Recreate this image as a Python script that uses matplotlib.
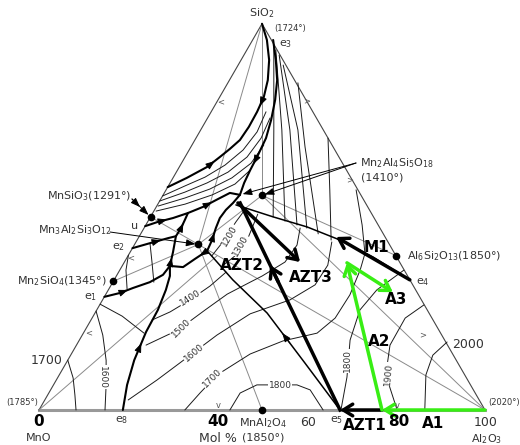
import numpy as np
import matplotlib
matplotlib.use('Agg')
import matplotlib.pyplot as plt

# ternary MnO - Al2O3 - SiO2, every curve given as (mol% Al2O3, mol% SiO2)
H = np.sqrt(3) / 2

# compounds (dots)
cmp_al = [0, 14.29, 0, 22.22, 60, 50]
cmp_si = [50, 42.86, 33.33, 55.56, 40, 0]

# gray tie lines: pairs of compositions
ties = [((0, 100), (22.22, 55.56)), ((0, 100), (14.29, 42.86)),
        ((0, 33.33), (14.29, 42.86)), ((0, 50), (14.29, 42.86)),
        ((14.29, 42.86), (50, 0)), ((14.29, 42.86), (100, 0)),
        ((22.22, 55.56), (100, 0)), ((22.22, 55.56), (60, 40)),
        ((14.29, 42.86), (22.22, 55.56)), ((0, 0), (20, 40))]

# bold boundary curves
b1 = ([0, 3.2, 6.3, 8.6, 9.9, 10.3, 10.4, 10.1, 9.0, 7.8, 6.2, 3.1, 0],
      [100, 95.8, 90.6, 85.4, 81.0, 77.2, 73.3, 69.9, 67.6, 65.5, 62.9, 60.1, 57.7])
b2 = ([4.6, 7.8, 10.7, 12.8, 14.5, 15.7, 16.1, 16.3, 16.6, 17.2],
      [95.8, 90.6, 85.4, 80.3, 75.1, 70.4, 66.0, 62.1, 58.8, 55.7])
b3 = ([0, 2.3, 5.2, 7.9, 10.5, 12.8, 14.7, 17.2],
      [47.6, 48.7, 49.7, 51.0, 52.6, 54.6, 56.2, 55.7])
b4 = ([0, 3.3, 6.7, 8.2, 8.3, 8.1, 7.9], [41.9, 43.2, 44.5, 45.0, 47.1, 49.2, 51.0])
b5 = ([0, 3.0, 5.3, 8.3, 10.3, 10.7], [29.3, 30.3, 31.6, 33.1, 35.0, 37.3])
b6 = ([18.8, 16.5, 14.9, 13.9, 13.7, 12.9, 12.0, 10.7],
      [0, 6.5, 12.9, 20.2, 25.9, 31.1, 34.7, 37.3])
b7 = ([17.1, 16.8, 16.1, 15.7, 16.0, 16.7, 17.2], [41.2, 44.0, 47.1, 49.7, 51.8, 53.6, 55.7])
b9 = ([10.7, 9.6, 8.2], [37.3, 40.9, 45.0])
b10 = ([17.1, 15.4, 13.8, 10.7], [41.2, 39.1, 37.0, 37.3])
# medium boundaries
b11 = ([17.1, 26.6, 38.6, 53.5, 67.5], [41.2, 33.7, 25.1, 12.2, 0])
b12 = ([17.6, 27.5, 36.4, 45.5, 55.1, 66.3], [53.1, 50.0, 47.4, 44.0, 39.6, 33.7])

# thin curves near the SiO2 corner
h1 = ([0, 3.7, 7.1, 10.0, 12.1, 12.9, 12.3], [55.4, 58.0, 60.3, 63.4, 67.3, 72.0, 77.2])
h2 = ([0, 4.5, 8.3, 11.6, 13.9, 14.6, 14.0], [54.1, 56.4, 58.8, 61.6, 65.5, 70.4, 75.6])
h3 = ([0.3, 5.3, 9.7, 13.2, 15.6, 16.1], [52.8, 54.9, 57.2, 60.1, 63.9, 68.6])
h4 = ([0.5, 6.1, 11.0, 14.7, 16.3], [51.5, 53.3, 55.7, 58.5, 62.1])
f2 = ([5.4, 16.4, 27.5], [94.5, 72.5, 50.0])
f3 = ([6.5, 18.2, 30.7], [93.2, 72.5, 48.9])
f4 = ([7.9, 20.0, 33.9], [91.9, 72.5, 47.9])
f5 = ([10.1, 21.8, 36.5], [89.3, 72.5, 47.1])
f6 = ([15.7, 25.6, 39.8], [84.7, 68.1, 45.6])
f7 = ([29.6, 36.7, 43.5], [70.4, 57.0, 44.0])
f8 = ([42.6, 48.5, 52.6], [57.0, 47.9, 40.9])

# isotherms
i1200 = ([18.8, 19.4, 19.8, 20.3], [39.9, 43.2, 48.7, 52.3])
i1300 = ([22.3, 24.0, 24.6, 23.7], [37.0, 39.9, 44.5, 50.7])
i1400 = ([13.7, 16.7, 19.6, 22.3, 24.1], [23.3, 25.4, 28.5, 32.1, 35.7])
i1500 = ([15.6, 20.8, 24.3, 27.2, 30.8, 32.7, 36.0, 36.5, 35.0],
         [16.8, 20.7, 25.9, 30.0, 33.1, 34.7, 38.3, 42.7, 47.1])
i1600 = ([18.7, 22.6, 25.5, 30.2, 34.9, 42.0, 45.7, 46.0, 43.9],
         [2.6, 7.8, 12.2, 19.4, 24.9, 28.5, 32.4, 37.5, 43.5])
i1700 = ([32.7, 33.9, 35.4, 40.1, 45.8, 52.4, 54.5, 54.8, 53.9, 52.8],
         [0, 4.4, 9.1, 14.5, 17.9, 19.9, 23.8, 29.8, 36.2, 40.6])
i1800 = ([42.8, 42.9, 45.6, 54.6, 58.2, 63.7], [0, 4.4, 6.5, 6.5, 5.2, 0])
k1800 = ([67.7, 64.8, 60.7, 59.0, 60.2, 63.7], [0, 8.5, 18.1, 25.9, 31.1, 36.2])
k1900 = ([80.3, 73.2, 70.3, 70.2, 72.7], [0, 9.1, 16.8, 23.8, 27.2])
k2000 = ([86.5, 82.2, 81.2, 82.7], [0, 9.1, 14.2, 17.6])
m1700 = ([0, 3.5, 6.1, 8.3], [12.9, 8.3, 3.9, 0])
m1600 = ([0, 4.6, 8.6, 11.8, 14.8], [25.6, 19.4, 12.9, 6.5, 0])
g1 = ([0, 6.5, 13.6], [27.4, 24.3, 19.9])
g2 = ([0, 1.4, 4.1], [40.1, 36.2, 31.3])
g3 = ([3.4, 6.3, 9.2], [43.0, 38.1, 33.1])

# composition paths (thick arrows)
azt1 = ([76.9, 67.5], [0, 0])
azt2 = ([67.5, 18.3], [0, 53.6])
azt3 = ([17.8, 39.4], [53.6, 38.3])
m1 = ([66.3, 44.2], [33.7, 44.8])
a1 = ([100, 76.9], [0, 0])
a2 = ([76.9, 50.0], [0, 38.1])
a3 = ([50.0, 64.1], [38.1, 30.5])


def tern(al, si):
    al = np.asarray(al, float)
    si = np.asarray(si, float)
    return al + si / 2, si * H


def px(x, y):
    # image pixel -> axes data, only used to place text
    return (x - 39) / 4.46, (410 - y) / 4.46


fig = plt.figure(figsize=(5.2, 4.45), dpi=100)
ax = fig.add_axes([0, 0, 1, 1])
ax.set_xlim(-39 / 4.46, 481 / 4.46)
ax.set_ylim(-35 / 4.46, 410 / 4.46)
ax.axis('off')


def line(c, **kw):
    x, y = tern(*c)
    ax.plot(x, y, solid_capstyle='round', **kw)


def head(c, i, rev=False, color='k'):
    x, y = tern(*c)
    p0 = np.array([x[i], y[i]])
    p1 = np.array([x[i + 1], y[i + 1]])
    if rev:
        p0, p1 = p1, p0
    ax.annotate('', xy=p0 + 0.6 * (p1 - p0), xytext=p0 + 0.4 * (p1 - p0),
                arrowprops=dict(arrowstyle='-|>,head_length=0.9,head_width=0.35',
                                color=color, lw=0.7, mutation_scale=6,
                                shrinkA=0, shrinkB=0))


arrow_kw = dict(arrowstyle='->,head_length=0.45,head_width=0.28',
                lw=2.5, mutation_scale=15, shrinkA=0, shrinkB=0)


def big_arrow(c, color='k'):
    x, y = tern(*c)
    ax.annotate('', xy=(x[1], y[1]), xytext=(x[0], y[0]), zorder=6,
                arrowprops=dict(color=color, **arrow_kw))


# triangle
x, y = tern([0, 100], [0, 0])
ax.plot(x, y, color='#999999', lw=2.2, zorder=1)
x, y = tern([0, 0, 100], [0, 100, 0])
ax.plot(x, y, color='#444444', lw=0.8)

for p, q in ties:
    line(([p[0], q[0]], [p[1], q[1]]), color='#8a8a8a', lw=0.7)

for c in [h1, h2, h3, h4, f2, f3, f4, f5, f6, f7, f8, i1200, i1300, i1400, i1500,
          i1600, i1700, i1800, k1800, k1900, k2000, m1700, m1600, g1, g2, g3]:
    line(c, color='#1a1a1a', lw=0.7)

for c in [b1, b2, b3, b4, b5, b6, b7, b9, b10]:
    line(c, color='k', lw=1.5)
for c in [b11, b12]:
    line(c, color='k', lw=1.1)

# little arrows on the boundary curves
head(b1, 4)
head(b1, 9, rev=True)
head(b2, 6)
head(b3, 1)
head(b3, 4)
head(b4, 1)
head(b4, 4)
head(b5, 1)
head(b6, 2)
head(b9, 0)
head(b10, 0)
head(b7, 1)
head(b11, 2, rev=True)

x, y = tern(cmp_al, cmp_si)
ax.plot(x, y, 'o', color='k', ms=4.5, zorder=5)

# thick composition paths
big_arrow(azt1)
x, y = tern(*azt2)
ax.plot(x, y, color='k', lw=2.5, zorder=6)
t0, t1 = 0.62, 0.70
ax.annotate('', xy=(x[0] + t1 * (x[1] - x[0]), y[0] + t1 * (y[1] - y[0])),
            xytext=(x[0] + t0 * (x[1] - x[0]), y[0] + t0 * (y[1] - y[0])), zorder=6,
            arrowprops=dict(color='k', **arrow_kw))
big_arrow(azt3)
big_arrow(m1)
green = '#38ee14'
big_arrow(a1, green)
big_arrow(a2, green)
big_arrow(a3, green)

# label pointers
def pointer(x0, y0, tip):
    ax.annotate('', xy=tip, xytext=px(x0, y0),
                arrowprops=dict(arrowstyle='-|>,head_length=0.8,head_width=0.3',
                                color='k', lw=0.7, mutation_scale=7,
                                shrinkA=0, shrinkB=2))

pointer(132, 199, tern(cmp_al[0], cmp_si[0]))
pointer(132, 199, px(142, 209))
pointer(110, 232, tern(cmp_al[1], cmp_si[1]))
pointer(356, 163, tern(cmp_al[3], cmp_si[3]))
pointer(356, 163, tern(b2[0][-1], b2[1][-1]))

tc = '#333333'


def txt(x, y, s, size=8, **kw):
    kw.setdefault('ha', 'center')
    kw.setdefault('va', 'center')
    kw.setdefault('color', tc)
    ax.text(*px(x, y), s, fontsize=size, zorder=8, **kw)


txt(262, 13, 'SiO$_2$')
txt(290, 29, '(1724°)', 6)
txt(286, 44, 'e$_3$')
txt(360, 163, 'Mn$_2$Al$_4$Si$_5$O$_{18}$', ha='left')
txt(382, 178, '(1410°)')
txt(89, 196, 'MnSiO$_3$(1291°)')
txt(75, 230, 'Mn$_3$Al$_2$Si$_3$O$_{12}$')
txt(135, 226, 'u')
txt(119, 247, 'e$_2$')
txt(62, 281, 'Mn$_2$SiO$_4$(1345°)')
txt(91, 297, 'e$_1$')
txt(47, 360, '1700', 9)
txt(22, 403, '(1785°)', 6)
txt(504, 403, '(2020°)', 6)
txt(468, 345, '2000', 9)
txt(407, 256, 'Al$_6$Si$_2$O$_{13}$(1850°)', ha='left')
txt(423, 282, 'e$_4$')
txt(39, 422, '0', 11, weight='bold', color='k')
txt(39, 438, 'MnO')
txt(122, 420, 'e$_8$')
txt(218, 422, '40', 11, weight='bold', color='k')
txt(218, 438, 'Mol %', 9)
txt(263, 423, 'MnAl$_2$O$_4$')
txt(263, 438, '(1850°)')
txt(308, 423, '60', 9)
txt(337, 420, 'e$_5$')
txt(399, 422, '80', 11, weight='bold', color='k')
txt(486, 422, '100', 9)
txt(487, 439, 'Al$_2$O$_3$')

for s, x0, y0 in [('AZT1', 365, 425), ('A1', 433, 424), ('A2', 379, 342),
                  ('A3', 396, 300), ('M1', 376, 247), ('AZT2', 242, 265),
                  ('AZT3', 311, 277)]:
    txt(x0, y0, s, 11, weight='bold', color='k')

# isotherm labels on the lines
for s, x0, y0, r in [('1200', 230, 236, 60), ('1300', 241, 246, 60),
                     ('1400', 190, 298, 32), ('1500', 181, 328, 45),
                     ('1600', 194, 353, 40), ('1700', 212, 378, 45),
                     ('1800', 280, 386, 0), ('1800', 347, 361, 90),
                     ('1900', 388, 374, 85), ('1600', 102, 377, -90)]:
    txt(x0, y0, s, 6.5, rotation=r,
        bbox=dict(facecolor='white', edgecolor='none', pad=0.3))

# small tick chevrons on the edges
for s, x0, y0 in [('<', 221, 102), ('<', 89, 333), ('<', 131, 258),
                  ('>', 307, 101), ('>', 350, 180), ('>', 423, 335),
                  ('v', 218, 406), ('v', 397, 406)]:
    txt(x0, y0, s, 6, color='#555555')

fig.savefig('out.png', dpi=100)
